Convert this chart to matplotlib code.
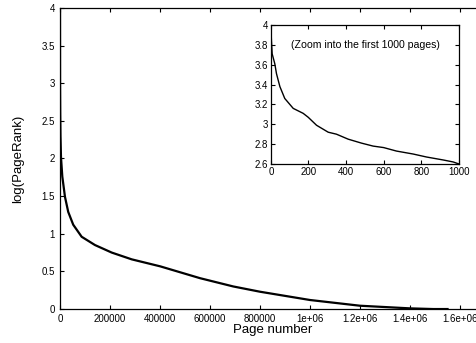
import numpy as np
import matplotlib
matplotlib.use('Agg')
import matplotlib.pyplot as plt

plt.rcParams['font.family'] = ['Liberation Sans', 'DejaVu Sans']

# full curve
page_all = [0, 300, 1000, 2000, 4000, 9300, 20000, 33000, 53000, 86700, 140000,
            207000, 287000, 401000, 560000, 693000, 800000, 1000000, 1200000,
            1400000, 1493000, 1550000]
rank_all = [4.0, 3.0, 2.6, 2.3, 2.02, 1.76, 1.49, 1.29, 1.12, 0.96, 0.85,
            0.75, 0.66, 0.567, 0.41, 0.30, 0.23, 0.12, 0.044,
            0.009, 0.0, 0.0]

# first 1000 pages
page_top = [0, 3, 7, 21, 30, 48, 74, 101, 119, 172, 199, 243, 305, 349, 411,
            482, 544, 600, 668, 757, 828, 917, 970, 1000]
rank_top = [4.0, 3.85, 3.71, 3.61, 3.51, 3.38, 3.26, 3.20, 3.16, 3.11, 3.07,
            2.99, 2.92, 2.90, 2.85, 2.81, 2.78, 2.765, 2.73, 2.70, 2.67, 2.64,
            2.62, 2.6]

main_xticks = [0, 200000, 400000, 600000, 800000, 1000000, 1200000, 1400000, 1600000]
main_xlabels = ['0', '200000', '400000', '600000', '800000', '1e+06', '1.2e+06', '1.4e+06', '1.6e+06']
main_yticks = [0, 0.5, 1, 1.5, 2, 2.5, 3, 3.5, 4]
main_ylabels = ['0', '0.5', '1', '1.5', '2', '2.5', '3', '3.5', '4']
ins_xticks = [0, 200, 400, 600, 800, 1000]
ins_yticks = [2.6, 2.8, 3.0, 3.2, 3.4, 3.6, 3.8, 4.0]
ins_ylabels = ['2.6', '2.8', '3', '3.2', '3.4', '3.6', '3.8', '4']

fig = plt.figure(figsize=(4.76, 3.43), dpi=100)
ax = fig.add_axes([0.126, 0.099, 0.893, 0.878])
ax.plot(page_all, rank_all, color='black', lw=1.6)
ax.set_xlim(0, 1700000)
ax.set_ylim(0, 4)
ax.set_xticks(main_xticks)
ax.set_xticklabels(main_xlabels)
ax.set_yticks(main_yticks)
ax.set_yticklabels(main_ylabels)
ax.tick_params(direction='in', top=True, right=True, labelsize=7, length=3, width=0.8)
ax.set_xlabel('Page number', fontsize=9.5, labelpad=0)
ax.set_ylabel('log(PageRank)', fontsize=9.5, labelpad=13)
for s in ax.spines.values():
    s.set_linewidth(0.9)

ins = fig.add_axes([0.569, 0.522, 0.395, 0.405])
ins.plot(page_top, rank_top, color='black', lw=1.0)
ins.set_xlim(0, 1000)
ins.set_ylim(2.6, 4)
ins.set_xticks(ins_xticks)
ins.set_yticks(ins_yticks)
ins.set_yticklabels(ins_ylabels)
ins.tick_params(direction='in', top=True, right=True, labelsize=7, length=3, width=0.8, pad=2)
ins.text(505, 3.8, '(Zoom into the first 1000 pages)', ha='center', va='center', fontsize=7.6)
for s in ins.spines.values():
    s.set_linewidth(0.9)

fig.savefig('out.png', dpi=100)
